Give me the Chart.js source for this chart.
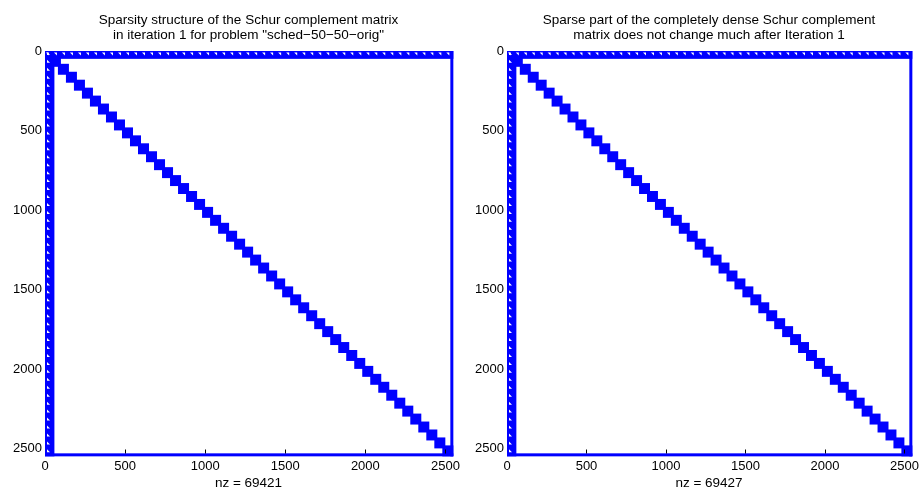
<!DOCTYPE html>
<html>
<head>
<meta charset="utf-8">
<script src="https://cdn.jsdelivr.net/npm/chart.js@4.4.1/dist/chart.umd.min.js"></script>
<style>
  html, body { margin: 0; padding: 0; background: #fff; }
  #wrap { position: relative; width: 920px; height: 490px; overflow: hidden; }
  .pane { position: absolute; top: 0; width: 460px; height: 490px; }
</style>
</head>
<body>
<div id="wrap">
  <div class="pane" style="left:0"><canvas id="spyLeft" width="460" height="490"></canvas></div>
  <div class="pane" style="left:460px"><canvas id="spyRight" width="460" height="490"></canvas></div>
</div>
<script>
// matrix structure
const matrixOrder = 2540;
const leadingBand = [0, 40];          // dense first rows / columns
const blockSize = 50;
const blockStarts = [40, 90, 140, 190, 240, 290, 340, 390, 440, 490,
  540, 590, 640, 690, 740, 790, 840, 890, 940, 990,
  1040, 1090, 1140, 1190, 1240, 1290, 1340, 1390, 1440, 1490,
  1540, 1590, 1640, 1690, 1740, 1790, 1840, 1890, 1940, 1990,
  2040, 2090, 2140, 2190, 2240, 2290, 2340, 2390, 2440, 2490];
const bandGapStarts = [-10].concat(blockStarts);
const tickValues = [0, 500, 1000, 1500, 2000, 2500];

const leftTitle = ['Sparsity structure of the Schur complement matrix',
  'in iteration 1 for problem "sched\u221250\u221250\u2212orig"'];
const rightTitle = ['Sparse part of the completely dense Schur complement',
  'matrix does not change much after Iteration 1'];
const nzLeft = 69421;
const nzRight = 69427;

const BLUE = '#0000ff';
const FONT = '"Liberation Sans", Arial, Helvetica, sans-serif';

const spyPlugin = {
  id: 'spy',
  afterDatasetsDraw(chart, args, opts) {
    const {ctx, chartArea: a, scales: {x, y}} = chart;
    const px = v => x.getPixelForValue(v);
    const py = v => y.getPixelForValue(v);
    const pad = 1.5;
    ctx.save();
    ctx.fillStyle = BLUE;

    // leading dense rows and columns
    ctx.fillRect(px(0), py(leadingBand[0]), px(matrixOrder) - px(0) + pad, py(leadingBand[1]) - py(leadingBand[0]) + pad);
    ctx.fillRect(px(leadingBand[0]), py(0), px(leadingBand[1]) - px(leadingBand[0]) + pad + 1.5, py(matrixOrder) - py(0) + pad);

    // last row / last column
    ctx.fillRect(px(matrixOrder) - pad, py(0), 2 * pad, py(matrixOrder) - py(0) + pad);
    ctx.fillRect(px(0), py(matrixOrder) - pad, px(matrixOrder) - px(0) + pad, 2 * pad);

    // diagonal blocks
    blockStarts.forEach(s => {
      const x0 = px(s) - pad, y0 = py(s) - pad;
      const w = px(s + blockSize) - px(s) + 2 * pad;
      const h = py(s + blockSize) - py(s) + 2 * pad;
      ctx.fillRect(x0, y0, w, h);
    });

    // little gaps inside the dense bands
    ctx.fillStyle = '#fff';
    bandGapStarts.forEach(s => {
      const gx = px(s + blockSize * 0.5);
      const gy = py(leadingBand[0]) + 1.5;
      ctx.beginPath();
      ctx.moveTo(gx - 1.5, gy);
      ctx.lineTo(gx + 1.5, gy);
      ctx.lineTo(gx + 1.5, gy + 3);
      ctx.closePath();
      ctx.fill();
      const hx = px(leadingBand[0]) + 2;
      const hy = py(s + blockSize * 0.5);
      ctx.beginPath();
      ctx.moveTo(hx, hy - 1.5);
      ctx.lineTo(hx, hy + 1.5);
      ctx.lineTo(hx + 3, hy + 1.5);
      ctx.closePath();
      ctx.fill();
    });

    // inward tick marks on the bottom edge
    ctx.strokeStyle = '#000';
    ctx.lineWidth = 1;
    tickValues.slice(1).forEach(v => {
      const tx = Math.round(px(v)) + 0.5;
      ctx.beginPath();
      ctx.moveTo(tx, a.bottom - pad);
      ctx.lineTo(tx, a.bottom - pad - 4);
      ctx.stroke();
    });

    // titles and x label
    const cx = (a.left + a.right) / 2;
    ctx.fillStyle = '#000';
    ctx.font = '13.5px ' + FONT;
    ctx.textAlign = 'center';
    ctx.textBaseline = 'middle';
    opts.title.forEach((line, i) => ctx.fillText(line, cx, 20 + i * 15));
    ctx.fillText('nz = ' + opts.nz, cx, 483);
    ctx.restore();
  }
};

function makeSpy(id, yWidth, rightPad, title, nz) {
  new Chart(document.getElementById(id), {
    type: 'scatter',
    data: { datasets: [{ data: [], showLine: false }] },
    options: {
      responsive: false,
      animation: false,
      layout: { padding: { top: 51, right: rightPad, bottom: 0, left: 0 } },
      scales: {
        x: {
          type: 'linear', min: 0, max: matrixOrder + 1,
          grid: { display: false, drawTicks: false },
          border: { display: false },
          afterBuildTicks: s => { s.ticks = tickValues.map(v => ({ value: v })); },
          afterFit: s => { s.height = 35; s.paddingLeft = 0; s.paddingRight = 0; },
          ticks: { color: '#000', padding: 4, maxRotation: 0, autoSkip: false,
                   callback: v => String(v),
                   font: { family: FONT, size: 13 } }
        },
        y: {
          type: 'linear', reverse: true, min: 0, max: matrixOrder + 1,
          grid: { display: false, drawTicks: false },
          border: { display: false },
          afterBuildTicks: s => { s.ticks = tickValues.map(v => ({ value: v })); },
          afterFit: s => { s.width = yWidth; s.paddingTop = 0; s.paddingBottom = 0; },
          ticks: { color: '#000', padding: 3, autoSkip: false,
                   callback: v => String(v),
                   font: { family: FONT, size: 13 } }
        }
      },
      plugins: {
        legend: { display: false },
        tooltip: { enabled: false },
        spy: { title: title, nz: nz }
      }
    },
    plugins: [spyPlugin]
  });
}

makeSpy('spyLeft', 45, 8, leftTitle, nzLeft);
makeSpy('spyRight', 47, 9, rightTitle, nzRight);
</script>
</body>
</html>
